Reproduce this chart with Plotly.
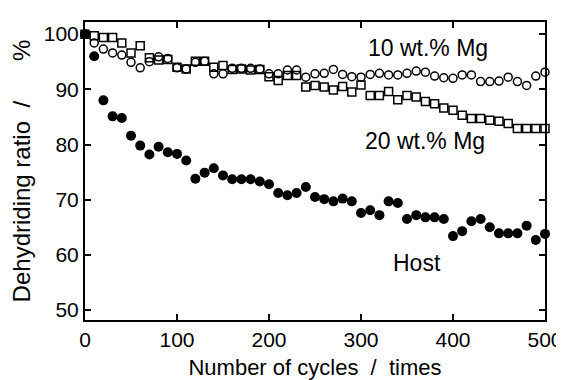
import plotly.graph_objects as go

cycles = list(range(0, 501, 10))

host = [100, 96, 88, 85.1, 84.8, 81.6, 79.8, 78.2, 79.6, 78.6,
        78.3, 77.1, 73.8, 74.9, 75.7, 74.4, 73.7, 73.7, 73.7, 73.3,
        72.8, 71.2, 70.8, 71.2, 72.3, 70.5, 70.1, 69.7, 70.2, 69.7,
        67.6, 68.1, 67.2, 69.7, 69.4, 66.5, 67.2, 66.8, 66.8, 66.5,
        63.4, 64.3, 66.1, 66.5, 65.0, 63.9, 63.9, 63.9, 65.3, 62.7,
        63.8]

mg10 = [100, 98.4, 97.3, 96.6, 96.2, 94.9, 93.9, 95.0, 95.9, 95.6,
        93.9, 93.7, 94.9, 95.1, 92.8, 92.8, 93.8, 93.8, 93.8, 93.7,
        92.8, 92.8, 93.5, 93.5, 92.2, 92.8, 92.9, 93.6, 92.7, 92.3,
        92.2, 92.7, 92.9, 92.6, 92.6, 92.9, 93.3, 93.1, 92.4, 92.1,
        92.0, 92.6, 92.6, 91.4, 91.4, 91.5, 92.2, 91.4, 90.7, 92.4,
        93.1]

mg20 = [100, 99.7, 99.4, 99.4, 98.4, 96.6, 97.9, 95.7, 95.3, 95.4,
        94.0, 93.7, 95.1, 95.1, 94.0, 94.3, 93.6, 93.7, 93.5, 93.6,
        92.3, 91.6, 92.5, 92.5, 90.4, 90.7, 90.4, 89.9, 90.5, 89.5,
        90.8, 88.9, 88.9, 89.6, 88.1, 88.9, 88.6, 87.8, 87.4, 86.6,
        86.2, 85.3, 84.7, 84.7, 84.4, 84.2, 83.8, 82.9, 82.9, 82.9,
        82.9]

labels = ["10 wt.% Mg", "20 wt.% Mg", "Host"]
label_x = [373, 370, 361]
label_y = [97.5, 80.6, 58.5]

FONT = "Liberation Sans, Arial, sans-serif"
SP = "\u00a0"

fig = go.Figure()
fig.add_trace(go.Scatter(x=cycles, y=host, mode="markers", name="Host",
                         marker=dict(symbol="circle", size=10, color="black"),
                         cliponaxis=False))
fig.add_trace(go.Scatter(x=cycles, y=mg10, mode="markers", name="10 wt.% Mg",
                         marker=dict(symbol="circle-open", size=8, color="black",
                                     line=dict(width=1.5, color="black")),
                         cliponaxis=False))
fig.add_trace(go.Scatter(x=cycles, y=mg20, mode="markers", name="20 wt.% Mg",
                         marker=dict(symbol="square-open", size=8, color="black",
                                     line=dict(width=1.5, color="black")),
                         cliponaxis=False))

for t, x, y in zip(labels, label_x, label_y):
    fig.add_annotation(x=x, y=y, text=t, showarrow=False,
                       font=dict(family=FONT, size=23, color="black"))

# page body has an 8px margin, so the figure is sized 556x372
fig.update_layout(
    width=556, height=372,
    margin=dict(l=77, r=19, t=14, b=60),
    paper_bgcolor="white", plot_bgcolor="white",
    showlegend=False,
    font=dict(family=FONT, size=21, color="black"),
)
fig.update_xaxes(range=[0, 500], dtick=100, tick0=0, automargin=False,
                 showline=True, linecolor="black", linewidth=2, mirror="ticks",
                 ticks="inside", ticklen=6, tickwidth=1.5, tickcolor="black",
                 showgrid=False, zeroline=False,
                 tickfont=dict(family=FONT, size=21),
                 title=dict(text="Number of cycles" + SP * 2 + "/" + SP * 2 + "times",
                            standoff=12, font=dict(family=FONT, size=22)))
fig.update_yaxes(range=[48.2, 102.2], dtick=10, tick0=50, automargin=False,
                 showline=True, linecolor="black", linewidth=2, mirror="ticks",
                 ticks="inside", ticklen=6, tickwidth=1.5, tickcolor="black",
                 showgrid=False, zeroline=False,
                 tickfont=dict(family=FONT, size=21),
                 title=dict(text="Dehydriding ratio" + SP * 2 + "/" + SP * 6 + "%",
                            standoff=9, font=dict(family=FONT, size=24)))

fig.write_html("out.html")
